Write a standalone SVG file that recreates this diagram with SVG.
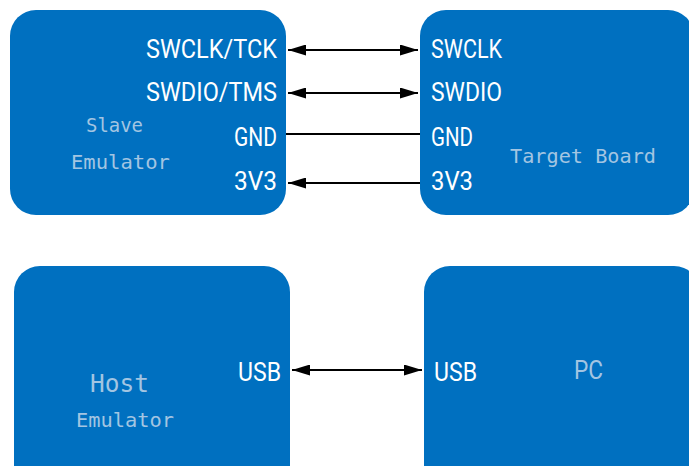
<svg xmlns="http://www.w3.org/2000/svg" width="689" height="466" viewBox="0 0 689 466">
<defs>
<style>
.box{fill:#0070C0;}
.pin{fill:#ffffff;font-family:Roboto,"Liberation Sans",sans-serif;font-size:26px;}
.lbl{fill:#a3c5e2;font-family:"DejaVu Sans Mono","Liberation Mono",monospace;font-size:19px;}
.pc{fill:#a3c5e2;font-family:Roboto,"Liberation Sans",sans-serif;font-size:25px;}
.wire{stroke:#000000;stroke-width:2;fill:none;}
</style>
<marker id="ah" viewBox="0 0 18 11" refX="18" refY="5.5" markerWidth="18" markerHeight="11" markerUnits="userSpaceOnUse" orient="auto-start-reverse">
<path d="M0,0 L18,5.5 L0,11 z" fill="#000000"/>
</marker>
</defs>
<rect width="689" height="466" fill="#ffffff"/>
<g id="slave-emulator">
<rect class="box" x="10" y="10" width="276" height="205" rx="26" ry="26"/>
<text class="pin" x="146" y="58" textLength="131" lengthAdjust="spacingAndGlyphs">SWCLK/TCK</text>
<text class="pin" x="146" y="101" textLength="131" lengthAdjust="spacingAndGlyphs">SWDIO/TMS</text>
<text class="pin" x="234" y="146" textLength="43" lengthAdjust="spacingAndGlyphs">GND</text>
<text class="pin" x="234" y="190" textLength="43" lengthAdjust="spacingAndGlyphs">3V3</text>
<text class="lbl" x="86" y="132" textLength="57" lengthAdjust="spacingAndGlyphs">Slave</text>
<text class="lbl" x="71" y="169" textLength="99" lengthAdjust="spacingAndGlyphs">Emulator</text>
</g>
<g id="target-board">
<rect class="box" x="420" y="10" width="274" height="205" rx="26" ry="26"/>
<text class="pin" x="431" y="58" textLength="71" lengthAdjust="spacingAndGlyphs">SWCLK</text>
<text class="pin" x="431" y="101" textLength="71" lengthAdjust="spacingAndGlyphs">SWDIO</text>
<text class="pin" x="431" y="146" textLength="42" lengthAdjust="spacingAndGlyphs">GND</text>
<text class="pin" x="431" y="190" textLength="42" lengthAdjust="spacingAndGlyphs">3V3</text>
<text class="lbl" x="510" y="163" textLength="146" lengthAdjust="spacingAndGlyphs">Target Board</text>
</g>
<g id="host-emulator">
<rect class="box" x="14" y="266" width="276" height="230" rx="26" ry="26"/>
<text class="pin" x="238" y="381" textLength="43" lengthAdjust="spacingAndGlyphs">USB</text>
<text class="lbl" x="90" y="392" style="font-size:25px" textLength="59" lengthAdjust="spacingAndGlyphs">Host</text>
<text class="lbl" x="76" y="427" textLength="98" lengthAdjust="spacingAndGlyphs">Emulator</text>
</g>
<g id="pc">
<rect class="box" x="424" y="266" width="276" height="230" rx="26" ry="26"/>
<text class="pin" x="434" y="381" textLength="43" lengthAdjust="spacingAndGlyphs">USB</text>
<text class="pc" x="574" y="379" textLength="29" lengthAdjust="spacingAndGlyphs">PC</text>
</g>
<g id="connectors">
<line class="wire" x1="288" y1="50" x2="418" y2="50" marker-start="url(#ah)" marker-end="url(#ah)"/>
<line class="wire" x1="288" y1="93" x2="418" y2="93" marker-start="url(#ah)" marker-end="url(#ah)"/>
<line class="wire" x1="286" y1="134" x2="420" y2="134"/>
<line class="wire" x1="420" y1="183" x2="288" y2="183" marker-end="url(#ah)"/>
<line class="wire" x1="292" y1="370" x2="422" y2="370" marker-start="url(#ah)" marker-end="url(#ah)"/>
</g>
</svg>
